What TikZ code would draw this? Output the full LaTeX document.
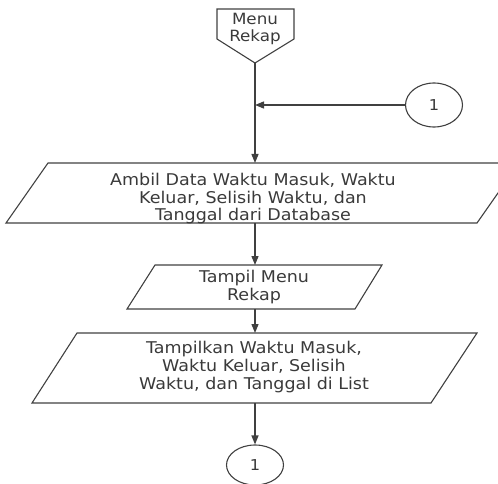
\documentclass[tikz,border=0pt]{standalone}
\usepackage{fontspec}
\setmainfont{DejaVu Sans}
\newfontfamily\wideface[FakeStretch=1.08]{DejaVu Sans}
\usetikzlibrary{arrows.meta,shapes.geometric}
\definecolor{ink}{HTML}{404040}
\definecolor{txt}{HTML}{3A3A3A}
\tikzset{
  flowline/.style={draw=ink, line width=1.3pt},
  shapeline/.style={draw=ink, line width=1.1pt},
  arrowline/.style={flowline, -{Triangle[length=9pt,width=7pt]}},
  label/.style={text=txt, align=center, inner sep=0pt,
    font=\wideface\fontsize{16.2}{18}\selectfont},
  connector/.style={ellipse, shapeline, minimum width=57pt,
    minimum height=44pt, inner sep=0pt, text=txt,
    font=\wideface\fontsize{15}{17}\selectfont}
}
\begin{document}
\begin{tikzpicture}[x=1pt,y=-1pt]
\useasboundingbox (0,0) rectangle (498,484);
\clip (0,0) rectangle (498,484);

% off-page connector "Menu Rekap"
\draw[shapeline] (217,9) -- (294,9) -- (294,39) -- (255,63) -- (217,39) -- cycle;
\coordinate (menuTip) at (255,63);
\node[label, font=\wideface\fontsize{15.5}{17}\selectfont] (menu) at (255,29) {Menu\\Rekap};

% on-page connector entering from the right
\node[connector] (cin) at (434,105) {1};
\coordinate (join) at (255,105);

% input: fetch data
\draw[shapeline] (48,163) -- (519,163) -- (477,223) -- (6,223) -- cycle;
\coordinate (p1top) at (255,163);
\coordinate (p1bot) at (255,223);
\node[label, font=\wideface\fontsize{16.2}{17.5}\selectfont] (ambil) at (253,199) {Ambil Data Waktu Masuk, Waktu\\Keluar, Selisih Waktu, dan\\Tanggal dari Database};

% output: show menu
\draw[shapeline] (155,265) -- (382,265) -- (355,309) -- (127,309) -- cycle;
\coordinate (p2top) at (255,265);
\coordinate (p2bot) at (255,309);
\node[label] (tampil) at (254,287) {Tampil Menu\\Rekap};

% output: show list
\draw[shapeline] (77,333) -- (477,333) -- (431,403) -- (32,403) -- cycle;
\coordinate (p3top) at (255,333);
\coordinate (p3bot) at (255,403);
\node[label] (list) at (254,367) {Tampilkan Waktu Masuk,\\Waktu Keluar, Selisih\\Waktu, dan Tanggal di List};

% on-page connector at the end
\node[connector, minimum height=40pt] (cout) at (255,465) {1};

% flow lines
\draw[arrowline] (menuTip) -- (p1top);
\draw[arrowline] (cin.west) -- (join);
\draw[arrowline] (p1bot) -- (p2top);
\draw[arrowline] (p2bot) -- (p3top);
\draw[arrowline] (p3bot) -- (cout.north);
\end{tikzpicture}
\end{document}
